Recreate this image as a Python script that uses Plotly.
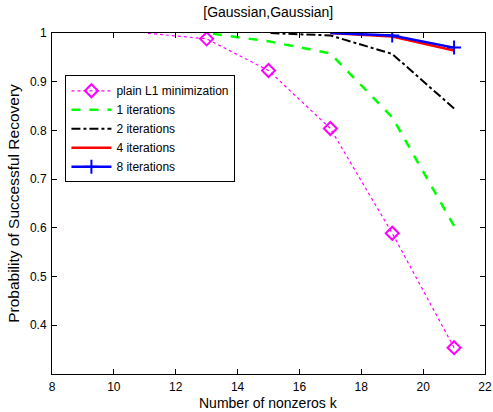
import plotly.graph_objects as go

# Data (k values listed in descending order so the first point carries a visible marker)
k_plain = [21, 19, 17, 15, 13, 11]
p_plain = [0.354, 0.589, 0.804, 0.923, 0.988, 1.0]

k_it1 = [21, 19, 17, 15, 13]
p_it1 = [0.604, 0.827, 0.958, 0.983, 1.0]

k_it2 = [21, 19, 17, 15]
p_it2 = [0.845, 0.957, 0.995, 1.0]

k_it4 = [21, 19, 17]
p_it4 = [0.964, 0.993, 1.0]

k_it8 = [21, 19, 17]
p_it8 = [0.970, 0.995, 1.0]

x_ticks = [8, 10, 12, 14, 16, 18, 20, 22]
y_ticks = [0.4, 0.5, 0.6, 0.7, 0.8, 0.9, 1.0]
y_tick_text = ["0.4", "0.5", "0.6", "0.7", "0.8", "0.9", "1"]

FONT = "Liberation Sans, Arial, Helvetica, sans-serif"

W, H = 493, 412
ML, MR, MT, MB = 51.5, 8, 32.5, 38
PLOT_H = H - MT - MB


def vis_colors(vals, color):
    return [color if v < 1.0 else "rgba(0,0,0,0)" for v in vals]


fig = go.Figure()

fig.add_trace(go.Scatter(
    x=k_plain, y=p_plain, name="plain L1 minimization",
    mode="lines+markers",
    line=dict(color="#ff00ff", width=1.2, dash="dot"),
    marker=dict(symbol="diamond-open", size=10,
                color=vis_colors(p_plain, "#ff00ff"),
                line=dict(width=2, color=vis_colors(p_plain, "#ff00ff"))),
))
fig.add_trace(go.Scatter(
    x=k_it1, y=p_it1, name="1 iterations", mode="lines",
    line=dict(color="#00ff00", width=2.5, dash="dash"),
))
fig.add_trace(go.Scatter(
    x=k_it2, y=p_it2, name="2 iterations", mode="lines",
    line=dict(color="black", width=2, dash="dashdot"),
))
fig.add_trace(go.Scatter(
    x=k_it4, y=p_it4, name="4 iterations", mode="lines",
    line=dict(color="#ff0000", width=2.5),
))
fig.add_trace(go.Scatter(
    x=k_it8, y=p_it8, name="8 iterations",
    mode="lines+markers",
    line=dict(color="#0000ff", width=2.5),
    marker=dict(symbol="cross-thin-open", size=10,
                color=vis_colors(p_it8, "#0000ff"),
                line=dict(width=2, color=vis_colors(p_it8, "#0000ff"))),
))

axis_common = dict(
    showline=True, mirror="ticks", linecolor="black", linewidth=1,
    ticks="inside", ticklen=5, tickcolor="black", showgrid=False,
    zeroline=False, automargin=False,
    tickfont=dict(family=FONT, size=12, color="black"),
)

fig.update_layout(
    width=W, height=H,
    margin=dict(l=ML, r=MR, t=MT, b=MB),
    paper_bgcolor="white", plot_bgcolor="white",
    font=dict(family=FONT, size=12, color="black"),
    title=dict(text="[Gaussian,Gaussian]", x=(ML + (W - ML - MR) / 2) / W, xanchor="center",
               y=1 - 12 / H, yanchor="middle", font=dict(family=FONT, size=14)),
    xaxis=dict(range=[8, 22], tickvals=x_ticks, ticktext=[str(v) for v in x_ticks],
               ticklabelstandoff=2, **axis_common),
    yaxis=dict(range=[0.3, 1.0], tickvals=y_ticks, ticktext=y_tick_text,
               ticklabelstandoff=2,
               title=dict(text="Probability of Successful Recovery", font=dict(family=FONT, size=15.5), standoff=6),
               **axis_common),
    legend=dict(x=0.031, y=0.876, xanchor="left", yanchor="top",
                bordercolor="black", borderwidth=1, bgcolor="white",
                font=dict(family=FONT, size=12), tracegroupgap=0, itemwidth=40),
    showlegend=True,
    annotations=[dict(
        text="Number of nonzeros k", xref="paper", yref="paper",
        x=0.5, y=-(403 - (H - MB)) / PLOT_H, xanchor="center", yanchor="middle",
        showarrow=False, borderpad=0, font=dict(family=FONT, size=14, color="black"),
    )],
)

fig.write_html("out.html")
